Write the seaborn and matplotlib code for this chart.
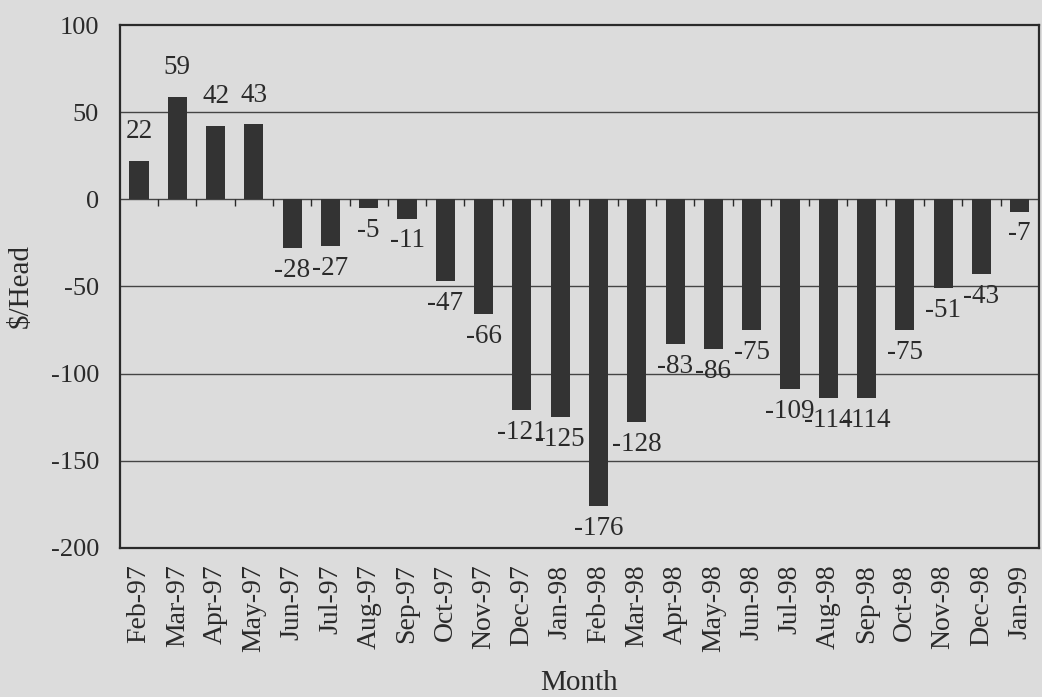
import matplotlib
matplotlib.use("Agg")
import matplotlib.pyplot as plt
import seaborn as sns
import pandas as pd
import numpy as np

months = ["Feb-97", "Mar-97", "Apr-97", "May-97", "Jun-97", "Jul-97", "Aug-97",
          "Sep-97", "Oct-97", "Nov-97", "Dec-97", "Jan-98", "Feb-98", "Mar-98",
          "Apr-98", "May-98", "Jun-98", "Jul-98", "Aug-98", "Sep-98", "Oct-98",
          "Nov-98", "Dec-98", "Jan-99"]
values = [22, 59, 42, 43, -28, -27, -5, -11, -47, -66, -121, -125, -176, -128,
          -83, -86, -75, -109, -114, -114, -75, -51, -43, -7]
y_ticks = [100, 50, 0, -50, -100, -150, -200]

sns.set_style("white")
plt.rcParams["font.family"] = ["Liberation Serif", "DejaVu Serif"]

bg = "#dcdcdc"
bar_color = "#333333"
ink = "#2a2a2a"

df = pd.DataFrame({"Month": months, "Value": values})

fig = plt.figure(figsize=(10.42, 6.97), dpi=100, facecolor=bg)
ax = fig.add_axes([0.115, 0.214, 0.882, 0.750])
ax.set_facecolor(bg)

sns.barplot(data=df, x="Month", y="Value", color=bar_color, width=0.5,
            saturation=1, linewidth=0, ax=ax, zorder=3)

ax.set_ylim(-200, 100)
ax.set_xlim(-0.5, len(months) - 0.5)
ax.set_yticks(y_ticks)
ax.set_yticklabels([str(t) for t in y_ticks], fontsize=19, color=ink)

# horizontal gridlines
for t in y_ticks:
    if -200 < t < 100:
        ax.axhline(t, color="#444444", lw=1.0, zorder=1)

# category separator ticks on the zero line
for b in np.arange(0.5, len(months) - 0.5, 1.0):
    ax.vlines(b, -4, 0, color=ink, lw=1.0, zorder=2)

ax.tick_params(axis="y", direction="out", length=7, width=1, color=ink, pad=8)
ax.tick_params(axis="x", length=0, pad=12)
ax.set_xticks(range(len(months)))
ax.set_xticklabels(months, rotation=90, fontsize=20, color=ink)

for s in ax.spines.values():
    s.set_color(ink)
    s.set_linewidth(1.6)
    s.set_visible(True)

ax.set_xlabel("Month", fontsize=21, color=ink, labelpad=13)
ax.set_ylabel("$/Head", fontsize=21, color=ink, labelpad=12)

# value labels
for i, v in enumerate(values):
    if v >= 0:
        ax.annotate(str(v), (i, v), xytext=(0, 12), textcoords="offset points",
                    ha="center", va="bottom", fontsize=19.5, color=ink, zorder=4)
    else:
        ax.annotate(str(v), (i, v), xytext=(0, -7), textcoords="offset points",
                    ha="center", va="top", fontsize=19.5, color=ink, zorder=4)

fig.savefig("out.png", dpi=100, facecolor=bg)
